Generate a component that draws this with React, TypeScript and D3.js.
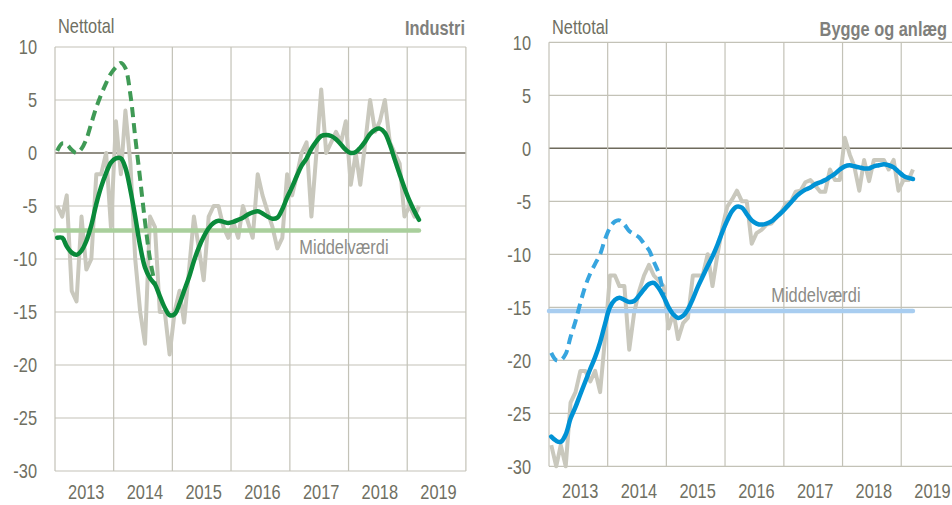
import React, { useEffect, useRef } from "react";
import * as d3 from "d3";

// Monthly data, Jan 2013 onward
const industriRaw = [
  -5, -6, -4, -13, -14, -6, -11, -10, -2, -2, 0, -7,
  3, -2, 4, -1, -10, -15, -18, -6, -7, -15, -15, -19,
  -15, -13, -16, -11, -6, -9, -12, -6, -5, -5, -7, -8,
  -6.5, -8, -5, -6.5, -8, -2, -4, -5.5, -7, -9, -8, -2,
  -4, -2, 0, 1, -6, 0, 6, 0, 1, 2, 1, 3,
  -3, 0, -3, 1, 5, 2, 3, 5, 1, 0, -1, -6,
  -5, -6, -5,
];
const industriTrend = [
  -8, -8, -8.8, -9.4, -9.6, -9.2, -8.3, -6.8, -4.8, -3.2, -1.9, -0.9,
  -0.5, -0.5, -1.4, -3.5, -6, -8.8, -10.8, -11.8, -12.4, -13.5, -14.6, -15.3,
  -15.2, -14.2, -13, -11.7, -10.2, -8.9, -7.9, -7.1, -6.6, -6.4, -6.5, -6.6,
  -6.5, -6.3, -6.1, -5.8, -5.6, -5.5, -5.7, -6, -6.2, -6.1, -5.3, -4.2,
  -3.2, -2.1, -1.2, -0.5, 0.4, 1.1, 1.6, 1.7, 1.6, 1.3, 0.8, 0.3,
  0, 0.1, 0.5, 1.1, 1.8, 2.2, 2.3, 1.9, 0.8, -0.6, -2, -3.3,
  -4.5, -5.5, -6.3,
];
const industriEarly = [
  0.2, 0.9, 0.8, 0.3, 0, 0.4, 1.3, 2.8, 4.3, 5.5, 6.6, 7.5,
  8.1, 8.5, 8.0, 5.5, 1.5, -2.5, -6.5, -10, -12.4,
];
const industriMean = -7.3;

const byggeRaw = [
  -28, -30, -28, -30, -24, -23, -21, -21, -22, -21, -23, -18,
  -12, -12, -13, -13, -19, -15.5, -13.5, -12, -11, -12, -12.5, -13,
  -17, -15.5, -18, -16.5, -16, -12, -12, -12, -10, -13, -10, -7.5,
  -5.5, -4.8, -4, -5, -5, -9, -8, -7.7, -7.2, -7.1, -6.5, -6,
  -5.2, -5, -4.1, -4, -3.2, -3, -3.5, -4.1, -4.1, -2, -3, -3,
  1, -0.6, -1.7, -4, -1.1, -3.1, -1.1, -1.1, -1.1, -2, -1.1, -4,
  -3, -3, -2,
];
const byggeTrend = [
  -27.2, -27.6, -27.7, -27, -25.5, -24.4, -23.2, -22, -20.8, -19.7, -18.3, -16.6,
  -15, -14.3, -14.1, -14.3, -14.5, -14.4, -13.9, -13.3, -12.8, -12.7, -13.2, -14,
  -15, -15.7, -16, -15.8, -15.2, -14.2, -13.1, -12.1, -11.1, -10.2, -9.1, -7.9,
  -6.8, -5.9, -5.5, -5.6, -6.2, -6.8, -7.1, -7.2, -7.1, -6.9, -6.5, -6.1,
  -5.6, -5.1, -4.6, -4.2, -3.9, -3.7, -3.4, -3.2, -3, -2.7, -2.4, -2,
  -1.7, -1.6, -1.7, -1.8, -1.9, -1.9, -1.7, -1.6, -1.5, -1.6, -1.8, -2.2,
  -2.6, -2.8, -2.9,
];
const byggeEarly = [
  -19.3, -20, -20, -19.4, -17.8, -16.3, -14.6, -13, -11.8, -10.9, -10, -8.6,
  -7.5, -6.9, -6.8, -7.2, -7.8, -8.1, -8.4, -9, -9.6, -10.7, -11.8, -13.8,
];
const byggeMean = -15.35;

const yearLabels = ["2013", "2014", "2015", "2016", "2017", "2018", "2019"];
const yTicks = [10, 5, 0, -5, -10, -15, -20, -25, -30];

const FONT = "'Liberation Sans', Arial, sans-serif";
const TEXT = "#6f6f62";
const GRID = "#c3c2b7";
const NARROW = 0.82; // the original uses a condensed face

interface PanelProps {
  raw: number[];
  trend: number[];
  early: number[];
  mean: number;
  title: string;
  left: number;
  top: number;
  titleX: number;
  unitY: number;
  labelDate: Date;
  labelDy: number;
  colors: { trend: string; early: string; mean: string };
}

const squeeze = (x: number, y: number) => `translate(${x},${y}) scale(${NARROW},1)`;

function Panel(p: PanelProps) {
  const ref = useRef<SVGGElement>(null);

  useEffect(() => {
    if (!ref.current) return;
    const g = d3.select(ref.current);
    g.selectAll("*").remove();

    const yearW = 58.7;
    const width = yearW * 7;
    const height = 424;
    const start = new Date(2013, 0, 1);
    const end = new Date(2020, 0, 1);

    const x = d3.scaleTime().domain([start, end]).range([p.left, p.left + width]);
    const y = d3.scaleLinear().domain([-30, 10]).range([p.top + height, p.top]);
    const date = (i: number) => new Date(2013, i, 15);

    // grid
    g.append("g")
      .selectAll("line")
      .data(yTicks)
      .join("line")
      .attr("x1", p.left)
      .attr("x2", p.left + width)
      .attr("y1", (d) => y(d))
      .attr("y2", (d) => y(d))
      .attr("stroke", (d) => (d === 0 ? "#6e6a5c" : GRID))
      .attr("stroke-width", (d) => (d === 0 ? 1.6 : 1.2));

    const years = d3.range(2013, 2021).map((yr) => new Date(yr, 0, 1));
    g.append("g")
      .selectAll("line")
      .data(years)
      .join("line")
      .attr("x1", (d) => x(d))
      .attr("x2", (d) => x(d))
      .attr("y1", p.top)
      .attr("y2", p.top + height)
      .attr("stroke", GRID)
      .attr("stroke-width", 1.2);

    // y tick labels
    g.append("g")
      .selectAll("text")
      .data(yTicks)
      .join("text")
      .attr("transform", (d) => squeeze(p.left - 18, y(d)))
      .attr("dy", "0.36em")
      .attr("text-anchor", "end")
      .attr("font-size", 20)
      .attr("fill", TEXT)
      .text((d) => d);

    // x labels (kept inside the 505px frame)
    const labelY = Math.min(p.top + height + 31.5, 499);
    g.append("g")
      .selectAll("text")
      .data(yearLabels)
      .join("text")
      .attr("transform", (d) => squeeze(x(new Date(+d, 6, 2)) + 2, labelY))
      .attr("text-anchor", "middle")
      .attr("font-size", 20)
      .attr("fill", TEXT)
      .text((d) => d);

    const line = d3
      .line<number>()
      .x((_, i) => x(date(i)))
      .y((d) => y(d));

    // raw series
    g.append("path")
      .datum(p.raw)
      .attr("fill", "none")
      .attr("stroke", "#c9c8bd")
      .attr("stroke-width", 4)
      .attr("stroke-linejoin", "round")
      .attr("d", line.curve(d3.curveLinear));

    // mean
    g.append("line")
      .attr("x1", p.left)
      .attr("x2", x(date(p.raw.length - 1)))
      .attr("y1", y(p.mean))
      .attr("y2", y(p.mean))
      .attr("stroke", p.colors.mean)
      .attr("stroke-width", 4.5)
      .attr("stroke-linecap", "round");

    g.append("text")
      .attr("transform", squeeze(x(p.labelDate), y(p.mean) + p.labelDy))
      .attr("font-size", 20)
      .attr("fill", "#8b8b86")
      .text("Middelværdi");

    // early estimate (dashed)
    g.append("path")
      .datum(p.early)
      .attr("fill", "none")
      .attr("stroke", p.colors.early)
      .attr("stroke-width", 4)
      .attr("stroke-dasharray", "10 6")
      .attr("d", line.curve(d3.curveCatmullRom));

    // trend
    g.append("path")
      .datum(p.trend)
      .attr("fill", "none")
      .attr("stroke", p.colors.trend)
      .attr("stroke-width", 4.5)
      .attr("stroke-linecap", "round")
      .attr("d", line.curve(d3.curveCatmullRom));

    g.append("text")
      .attr("transform", squeeze(p.left + 3, p.unitY))
      .attr("font-size", 20)
      .attr("fill", TEXT)
      .text("Nettotal");

    g.append("text")
      .attr("transform", squeeze(p.titleX, p.unitY + 1.5))
      .attr("text-anchor", "end")
      .attr("font-size", 20)
      .attr("font-weight", "bold")
      .attr("fill", "#7f7f7c")
      .text(p.title);
  }, [p]);

  return <g ref={ref} />;
}

export default function App() {
  return (
    <svg
      width={952}
      height={505}
      style={{ position: "absolute", left: 0, top: 0, background: "#fff", fontFamily: FONT }}
    >
      <rect width={952} height={505} fill="#fff" />
      <Panel
        raw={industriRaw}
        trend={industriTrend}
        early={industriEarly}
        mean={industriMean}
        title="Industri"
        left={55}
        top={47}
        titleX={465}
        unitY={33}
        labelDate={new Date(2017, 2, 1)}
        labelDy={24}
        colors={{ trend: "#0a8a3a", early: "#3f9a55", mean: "#a9cf9c" }}
      />
      <Panel
        raw={byggeRaw}
        trend={byggeTrend}
        early={byggeEarly}
        mean={byggeMean}
        title="Bygge og anlæg"
        left={549}
        top={42.3}
        titleX={947}
        unitY={34}
        labelDate={new Date(2016, 9, 15)}
        labelDy={-9.5}
        colors={{ trend: "#0092d5", early: "#37a5df", mean: "#a8cdf0" }}
      />
    </svg>
  );
}
